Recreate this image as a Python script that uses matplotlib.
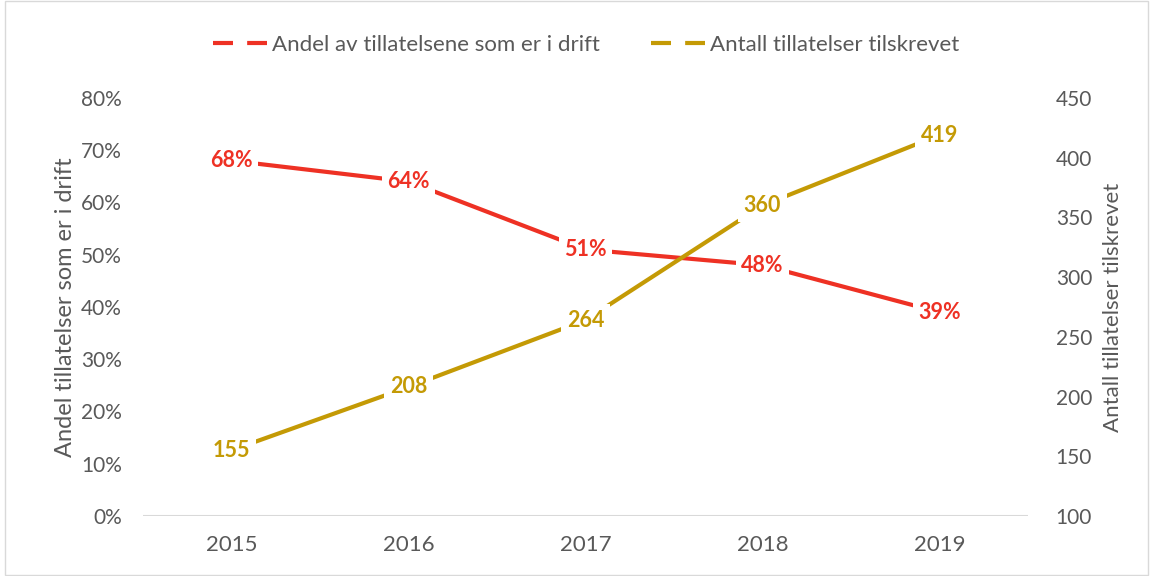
import matplotlib
matplotlib.use("Agg")
import matplotlib.pyplot as plt
from matplotlib.lines import Line2D
from matplotlib.patches import Rectangle

years = ["2015", "2016", "2017", "2018", "2019"]
andel = [68, 64, 51, 48, 39]
antall = [155, 208, 264, 360, 419]
left_ticks = [0, 10, 20, 30, 40, 50, 60, 70, 80]
right_ticks = [100, 150, 200, 250, 300, 350, 400, 450]

RED = "#EE3124"
GOLD = "#C49A05"
GRAY = "#595959"

plt.rcParams['font.family'] = ['Lato', 'DejaVu Sans']

fig = plt.figure(figsize=(11.5, 5.76), dpi=100)
ax = fig.add_axes([0.1243, 0.1042, 0.7696, 0.7257])
ax2 = ax.twinx()

x = list(range(len(years)))
ax.plot(x, andel, color=RED, lw=3, solid_capstyle='butt', zorder=2)
ax2.plot(x, antall, color=GOLD, lw=3, solid_capstyle='butt', zorder=2)

ax.set_xlim(-0.5, 4.5)
ax.set_ylim(0, 80)
ax2.set_ylim(100, 450)
ax.set_yticks(left_ticks)
ax.set_yticklabels([f"{t}%" for t in left_ticks])
ax2.set_yticks(right_ticks)
ax.set_xticks(x)
ax.set_xticklabels(years)

for a in (ax, ax2):
    for s in a.spines.values():
        s.set_visible(False)
    a.tick_params(length=0, colors=GRAY, labelsize=15)
ax.tick_params(axis='y', pad=15)
ax2.tick_params(axis='y', pad=20)
ax.tick_params(axis='x', pad=14, labelsize=16)
ax.axhline(0, color="#D9D9D9", lw=1.5, zorder=1)

ax.set_ylabel("Andel tillatelser som er i drift", color=GRAY, fontsize=17, labelpad=4)
ax2.set_ylabel("Antall tillatelser tilskrevet", color=GRAY, fontsize=16, labelpad=8)

for xi, v in zip(x, andel):
    ax.text(xi, v, f"{v}%", color=RED, fontsize=15.5, fontweight='bold', ha='center', va='center',
            bbox=dict(facecolor='white', edgecolor='none', pad=4), zorder=5)
for xi, v in zip(x, antall):
    ax2.text(xi, v, f"{v}", color=GOLD, fontsize=15.5, fontweight='bold', ha='center', va='center',
             bbox=dict(facecolor='white', edgecolor='none', pad=4), zorder=5)

handles = [Line2D([], [], color=RED, lw=3, linestyle=(0, (4.8, 3.4))),
           Line2D([], [], color=GOLD, lw=3, linestyle=(0, (4.8, 3.4)))]
fig.legend(handles, ["Andel av tillatelsene som er i drift", "Antall tillatelser tilskrevet"],
           loc='center', bbox_to_anchor=(0.51, 0.922), ncol=2, frameon=False,
           fontsize=16, labelcolor=GRAY, handlelength=2.43, handletextpad=0.22, columnspacing=2.3)

fig.patches.append(Rectangle((0.004, 0.002), 0.994, 0.996, transform=fig.transFigure,
                             fill=False, edgecolor="#D9D9D9", lw=1))

fig.savefig("out.png", dpi=100)
